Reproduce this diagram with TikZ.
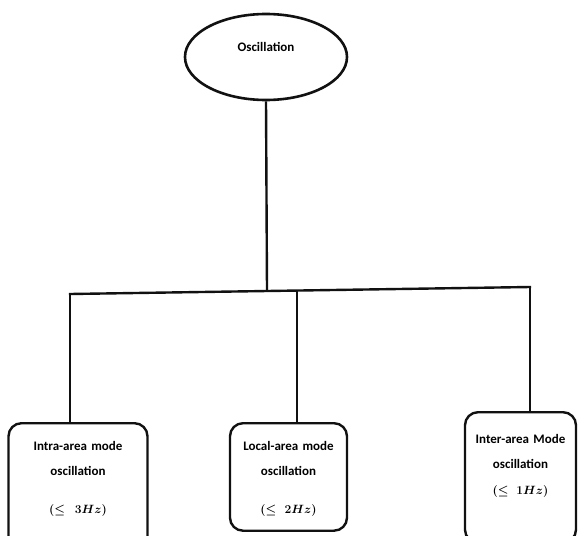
\documentclass[tikz,border=0pt]{standalone}
\usepackage{fontspec}
\setmainfont{Carlito}
\usetikzlibrary{shapes.geometric,positioning}
\definecolor{OscInk}{HTML}{111111}
\tikzset{
  rootnode/.style={draw=OscInk,ellipse,line width=2.6pt,minimum width=162pt,
    minimum height=86pt,font=\fontsize{13}{16}\selectfont\bfseries,text depth=20pt},
  modebox/.style={draw=OscInk,rounded corners=13pt,line width=2.4pt,align=center,
    anchor=north,font=\fontsize{13}{25}\selectfont\bfseries\boldmath,inner xsep=0pt,inner ysep=8pt},
  treeline/.style={draw=OscInk,line width=2.4pt}
}

\begin{document}
\begin{tikzpicture}[x=1pt,y=-1pt]
  \useasboundingbox (0,0) rectangle (585,535);
  % Root
  \node[rootnode] (osc) at (266,57) {Oscillation};
  % Bar
  \coordinate (barL) at (70,294);
  \coordinate (barR) at (530,287);
  \coordinate (hub)  at (267,291);
  \coordinate (barM) at (297,290.5);
  % Modes
  \node[modebox,text width=139pt] (intra) at (78,422)
    {\rule{0pt}{19.5pt}Intra-area mode\\oscillation\\[13pt]$(\leq 3Hz)$\rule[-29pt]{0pt}{29pt}};
  \node[modebox,text width=117pt] (local) at (288.5,422)
    {\rule{0pt}{19.5pt}Local-area mode\\oscillation\\[13pt]$(\leq 2Hz)$\rule[-9pt]{0pt}{9pt}};
  \node[modebox,text width=111pt] (inter) at (520.5,411)
    {\rule{0pt}{23.5pt}Inter-area Mode\\oscillation\\[1pt]$(\leq 1Hz)$\rule[-40pt]{0pt}{40pt}};
  % Links
  \draw[treeline] (osc.south) -- (hub);
  \draw[treeline,line cap=rect] (barL) -- (barR);
  \draw[treeline] (barL) -- (barL |- intra.north);
  \draw[treeline] (barM) -- (barM |- local.north);
  \draw[treeline] (barR) -- (barR |- inter.north);
\end{tikzpicture}
\end{document}
